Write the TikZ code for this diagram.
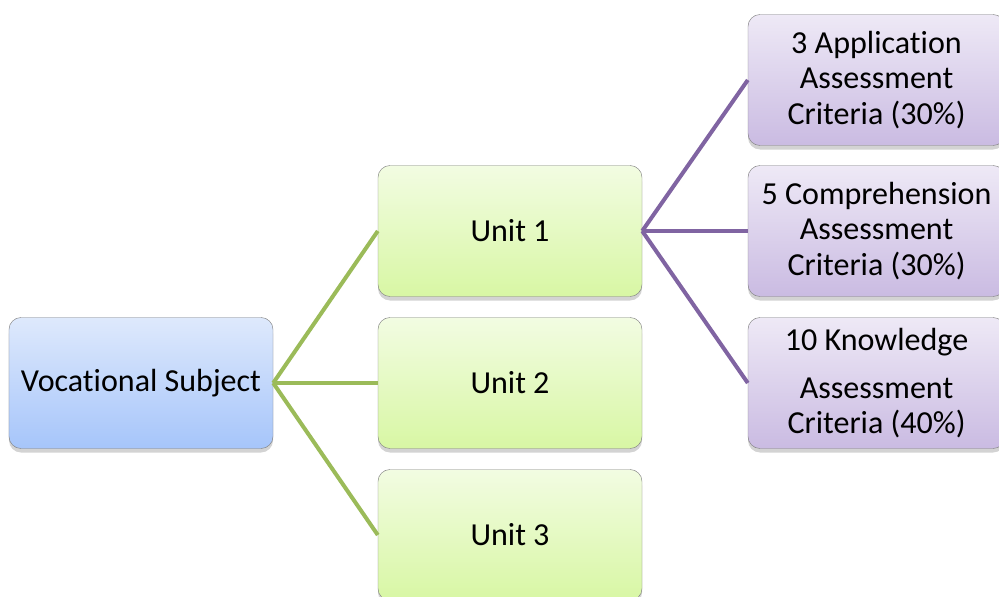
\documentclass[tikz,border=0pt]{standalone}
\usepackage{fontspec}
\setsansfont{Carlito}[Ligatures=NoCommon]
\usetikzlibrary{shadows}
\definecolor{lnGreen}{HTML}{9BBB59}
\definecolor{lnPurple}{HTML}{8064A2}
\tikzset{link/.style={line width=1mm},
  box/.style={draw=black!50, line width=0.3pt, rounded corners=3mm, minimum width=66mm, minimum height=32.75mm,
    align=center, font=\sffamily\fontsize{22.8}{25}\selectfont,
    drop shadow={opacity=0.35, shadow xshift=0mm, shadow yshift=-1mm}},
  subjbox/.style={box, top color={rgb,255:red,222;green,233;blue,252}, bottom color={rgb,255:red,166;green,197;blue,250}},
  unitbox/.style={box, top color={rgb,255:red,242;green,252;blue,226}, bottom color={rgb,255:red,216;green,247;blue,164}},
  critbox/.style={box, minimum width=64.25mm, top color={rgb,255:red,238;green,233;blue,246}, bottom color={rgb,255:red,202;green,187;blue,226}}}

\begin{document}
\begin{tikzpicture}[x=0.25mm, y=-0.25mm, font=\sffamily]
  \useasboundingbox (0,0) rectangle (999,597);
  \node[subjbox] (subj) at (141,383) {Vocational Subject};
  \node[unitbox] (u1) at (510,231) {Unit 1};
  \node[unitbox] (u2) at (510,383) {Unit 2};
  \node[unitbox] (u3) at (510,535) {Unit 3};
  \node[critbox] (c1) at (876.5,80) {3 Application\\Assessment\\Criteria (30\%)};
  \node[critbox] (c2) at (876.5,231) {5 Comprehension\\Assessment\\Criteria (30\%)};
  \node[critbox] (c3) at (876.5,383) {10 Knowledge\\[3.25mm]Assessment\\Criteria (40\%)};
  \foreach \u in {u1,u2,u3}{
    \draw[link, lnGreen] (subj.east) -- (\u.west);}
  \foreach \c in {c1,c2,c3}{
    \draw[link, lnPurple] (u1.east) -- (\c.west);}
\end{tikzpicture}
\end{document}
